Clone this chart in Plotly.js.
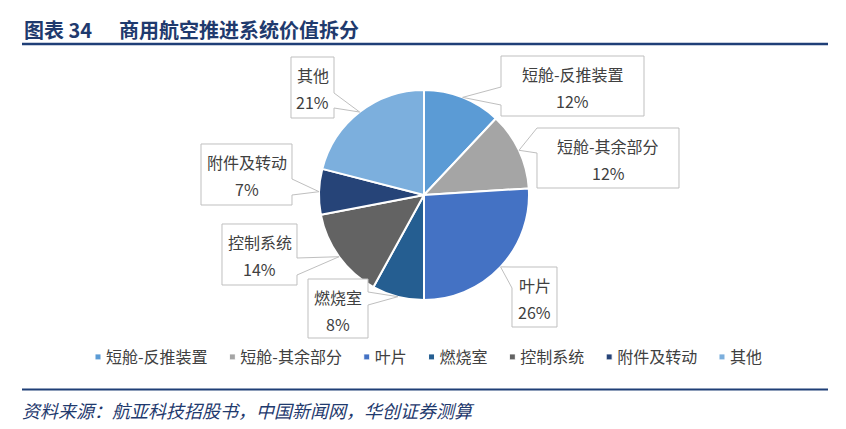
<!DOCTYPE html>
<html>
<head>
<meta charset="utf-8">
<script src="https://cdn.plot.ly/plotly-3.0.1.min.js"></script>
<style>
  html, body { margin: 0; padding: 0; background: #fff; }
  #chart { width: 846px; height: 429px; }
</style>
</head>
<body>
<div id="chart"></div>
<script>
// ---- data ----
const categories = ['短舱-反推装置', '短舱-其余部分', '叶片', '燃烧室', '控制系统', '附件及转动', '其他'];
const shares = [12, 12, 26, 8, 14, 7, 21];
const sliceColors = ['#5B9BD5', '#A5A5A5', '#4472C4', '#255E91', '#636363', '#264478', '#7CAFDD'];
const titleNo = '图表 34';
const titleText = '商用航空推进系统价值拆分';
const sourceText = '资料来源：航亚科技招股书，中国新闻网，华创证券测算';

// ---- layout constants (pixels) ----
const W = 846, H = 429;
const CX = 424, CY = 195, R = 105;
const px = x => x / W;
const py = y => 1 - y / H;

// callout boxes: [x0, y0, x1, y1], wedge side, wedge base on box edge
const callouts = [
  { box: [501, 56, 644, 116], side: 'left', wa: 87, wb: 105 },
  { box: [537, 128, 679, 188], side: 'left', wa: 128, wb: 153 },
  { box: [512, 267, 557, 327], side: 'left', wa: 267, wb: 288 },
  { box: [308, 279, 368, 338], side: 'right', wa: 292, wb: 305 },
  { box: [222, 224, 297, 285], side: 'right', wa: 258, wb: 275 },
  { box: [201, 144, 292, 205], side: 'right', wa: 179, wb: 195 },
  { box: [291, 57, 334, 118], side: 'right', wa: 93, wb: 108 }
];

const total = shares.reduce((a, b) => a + b, 0);
let cum = 0;
const shapes = [];
const annotations = [];
const labelFont = { family: '"Noto Sans CJK SC", "Noto Sans", sans-serif', size: 16, color: '#404040' };

shares.forEach((v, i) => {
  const mid = (cum + v / 2) / total;
  cum += v;
  const th = 2 * Math.PI * mid;
  const tx = CX + R * Math.sin(th);
  const ty = CY - R * Math.cos(th);
  const c = callouts[i];
  const [x0, y0, x1, y1] = c.box;
  let pts;
  if (c.side === 'right') {
    pts = [[x0, y0], [x1, y0], [x1, c.wa], [tx, ty], [x1, c.wb], [x1, y1], [x0, y1]];
  } else {
    pts = [[x0, y0], [x1, y0], [x1, y1], [x0, y1], [x0, c.wb], [tx, ty], [x0, c.wa]];
  }
  const path = 'M' + pts.map(p => px(p[0]).toFixed(5) + ',' + py(p[1]).toFixed(5)).join(' L') + ' Z';
  shapes.push({
    type: 'path', xref: 'paper', yref: 'paper', path: path,
    fillcolor: '#FFFFFF', line: { color: '#BFBFBF', width: 1 }, layer: 'above'
  });
  const xc = (x0 + x1) / 2;
  annotations.push({
    xref: 'paper', yref: 'paper', x: px(xc), y: py(y0 + 18), xanchor: 'center', yanchor: 'middle',
    text: categories[i], showarrow: false, font: labelFont
  });
  annotations.push({
    xref: 'paper', yref: 'paper', x: px(xc), y: py(y0 + 45), xanchor: 'center', yanchor: 'middle',
    text: v + '%', showarrow: false, font: labelFont
  });
});

// header / footer rules
shapes.push({ type: 'line', xref: 'paper', yref: 'paper', x0: px(22), x1: px(828), y0: py(44), y1: py(44),
  line: { color: '#1F3F77', width: 2.5 } });
shapes.push({ type: 'line', xref: 'paper', yref: 'paper', x0: px(22), x1: px(828), y0: py(389.5), y1: py(389.5),
  line: { color: '#1F3F77', width: 2 } });

const titleFont = { family: '"Noto Sans CJK SC", sans-serif', size: 20, color: '#1F3A6E', weight: 'bold' };
annotations.push({ xref: 'paper', yref: 'paper', x: px(22), y: py(29), xanchor: 'left', yanchor: 'middle',
  text: '<b>' + titleNo + '</b>', showarrow: false, font: titleFont });
annotations.push({ xref: 'paper', yref: 'paper', x: px(117), y: py(29), xanchor: 'left', yanchor: 'middle',
  text: '<b>' + titleText + '</b>', showarrow: false, font: titleFont });
annotations.push({ xref: 'paper', yref: 'paper', x: px(20), y: py(410), xanchor: 'left', yanchor: 'middle',
  text: sourceText, showarrow: false,
  font: { family: '"Noto Sans CJK SC", sans-serif', size: 18, color: '#1F3A6E', style: 'italic' } });

const trace = {
  type: 'pie',
  labels: categories,
  values: shares,
  sort: false,
  direction: 'clockwise',
  rotation: 0,
  textinfo: 'none',
  hoverinfo: 'label+percent',
  marker: { colors: sliceColors, line: { color: '#FFFFFF', width: 2 } },
  domain: { x: [px(CX - R), px(CX + R)], y: [py(CY + R), py(CY - R)] }
};

const layout = {
  width: W, height: H,
  margin: { l: 0, r: 0, t: 0, b: 0 },
  paper_bgcolor: '#FFFFFF',
  showlegend: true,
  legend: {
    orientation: 'h', x: 0.5, xanchor: 'center', y: py(357), yanchor: 'middle',
    font: { family: '"Noto Sans CJK SC", sans-serif', size: 16, color: '#404040' },
    itemwidth: 30, traceorder: 'normal'
  },
  shapes: shapes,
  annotations: annotations
};

Plotly.newPlot('chart', [trace], layout, { displayModeBar: false, staticPlot: true }).then(() => {
  // compact the legend entries: small square markers, 5px gap to text, spread over x 95..762
  const legend = document.querySelector('.legend');
  if (!legend) return;
  const m = /translate\(([-\d.]+)[ ,]+([-\d.]+)\)/.exec(legend.getAttribute('transform') || '');
  const lx = m ? parseFloat(m[1]) : 0;
  const items = Array.from(legend.querySelectorAll('.traces'));
  const widths = [];
  items.forEach(it => {
    it.querySelectorAll('.legendpoints path').forEach(p => {
      const t = p.getAttribute('transform') || '';
      p.setAttribute('transform', t + ' scale(0.5)');
    });
    const txt = it.querySelector('.legendtext');
    if (txt) txt.setAttribute('x', 28);
    widths.push(txt ? txt.getBBox().width : 0);
  });
  const left = 95, right = 762;
  const sumW = widths.reduce((a, b) => a + b, 0);
  const gap = Math.max(10, (right - left - sumW - items.length * 11) / (items.length - 1));
  let start = left - lx - 17; // local x of first item's origin
  items.forEach((it, i) => {
    const tm = /translate\(([-\d.]+)[ ,]+([-\d.]+)\)/.exec(it.getAttribute('transform') || '');
    const yy = tm ? parseFloat(tm[2]) : 0;
    it.setAttribute('transform', 'translate(' + start + ',' + yy + ')');
    start += widths[i] + 11 + gap;
  });
  const bg = legend.querySelector('.bg');
  if (bg) bg.setAttribute('width', 0);
});
</script>
</body>
</html>
